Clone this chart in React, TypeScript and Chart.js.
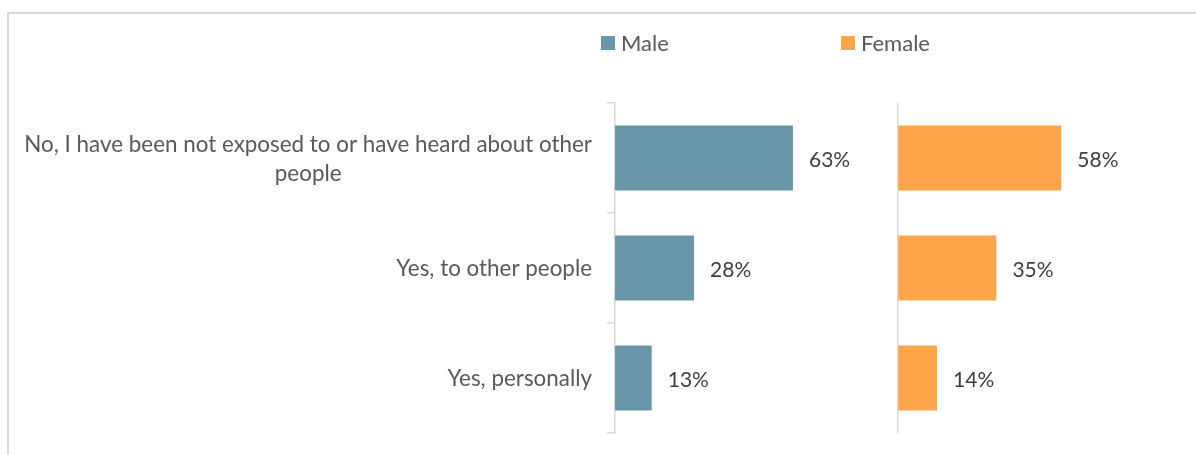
import React, { useEffect, useRef } from "react";
import { Chart, registerables } from "chart.js";

Chart.register(...registerables);

// ---- data ----
const categories: (string | string[])[] = [
  ["No, I have been not exposed to or have heard about other", "people"],
  "Yes, to other people",
  "Yes, personally",
];
const seriesNames = ["Male", "Female"];
const maleValues = [63, 28, 13];
const femaleValues = [58, 35, 14];
const valueSuffix = "%";
const axisMin = 0;
const axisMax = 100;

// ---- style ----
const FONT = "Lato, 'Noto Sans', sans-serif";
const MALE_COLOR = "#6A96AA";
const FEMALE_COLOR = "#FFA54C";
const AXIS_COLOR = "#D9D9D9";
const TEXT_COLOR = "#595959";
const LABEL_COLOR = "#404040";
const CAT_FONT_SIZE = 22.4;
const CAT_LINE_HEIGHT = 29;
const CAT_LABEL_GAP = 23;

const framePlugin = {
  id: "frame",
  beforeDraw(chart: any) {
    const ctx = chart.ctx;
    ctx.save();
    ctx.fillStyle = "#FFFFFF";
    ctx.fillRect(0, 0, chart.width, chart.height);
    ctx.fillStyle = AXIS_COLOR;
    ctx.fillRect(7, 12, 2, chart.height - 12);
    ctx.fillRect(7, 12, chart.width - 7, 2);
    ctx.restore();
  },
};

// Category labels: right-aligned block, lines centred inside the block (like Excel)
const categoryLabelPlugin = {
  id: "categoryLabels",
  afterDraw(chart: any) {
    const ctx = chart.ctx;
    const yScale = chart.scales.y;
    const right = chart.chartArea.left - CAT_LABEL_GAP;
    ctx.save();
    ctx.font = `${CAT_FONT_SIZE}px ${FONT}`;
    ctx.fillStyle = TEXT_COLOR;
    ctx.textBaseline = "middle";
    ctx.textAlign = "center";
    chart.data.labels.forEach((lab: any, i: number) => {
      const lines: string[] = Array.isArray(lab) ? lab : [lab];
      const maxW = Math.max(...lines.map((l) => ctx.measureText(l).width));
      const cx = right - maxW / 2;
      const cy = yScale.getPixelForTick(i);
      const startY = cy - ((lines.length - 1) * CAT_LINE_HEIGHT) / 2;
      lines.forEach((l, k) => ctx.fillText(l, cx, startY + k * CAT_LINE_HEIGHT + 1));
    });
    ctx.restore();
  },
};

const legendPlugin = {
  id: "customLegend",
  afterDraw(chart: any) {
    const ctx = chart.ctx;
    const xs = [601, 841];
    const cy = 43;
    ctx.save();
    ctx.font = `22px ${FONT}`;
    ctx.textBaseline = "middle";
    ctx.textAlign = "left";
    chart.data.datasets.forEach((ds: any, i: number) => {
      ctx.fillStyle = ds.backgroundColor;
      ctx.fillRect(xs[i], cy - 7, 14, 14);
      ctx.fillStyle = TEXT_COLOR;
      ctx.fillText(ds.label, xs[i] + 20, cy + 1);
    });
    ctx.restore();
  },
};

const valueLabelPlugin = {
  id: "valueLabels",
  afterDatasetsDraw(chart: any) {
    const ctx = chart.ctx;
    ctx.save();
    ctx.font = `21px ${FONT}`;
    ctx.fillStyle = LABEL_COLOR;
    ctx.textBaseline = "middle";
    ctx.textAlign = "left";
    chart.data.datasets.forEach((ds: any, i: number) => {
      const meta = chart.getDatasetMeta(i);
      meta.data.forEach((bar: any, j: number) => {
        ctx.fillText(`${ds.data[j]}${valueSuffix}`, bar.x + 16, bar.y + 2);
      });
    });
    ctx.restore();
  },
};

export default function App() {
  const canvasRef = useRef<HTMLCanvasElement | null>(null);

  useEffect(() => {
    const canvas = canvasRef.current;
    if (!canvas) return;
    const chart = new Chart(canvas, {
      type: "bar",
      data: {
        labels: categories,
        datasets: [
          {
            label: seriesNames[0],
            data: maleValues,
            backgroundColor: MALE_COLOR,
            xAxisID: "x",
            grouped: false,
            categoryPercentage: 1,
            barPercentage: 0.59,
          } as any,
          {
            label: seriesNames[1],
            data: femaleValues,
            backgroundColor: FEMALE_COLOR,
            xAxisID: "x2",
            grouped: false,
            categoryPercentage: 1,
            barPercentage: 0.59,
          } as any,
        ],
      },
      options: {
        indexAxis: "y",
        animation: false,
        responsive: false,
        maintainAspectRatio: false,
        layout: { padding: { top: 103, bottom: 22, left: 0, right: 16 } },
        plugins: {
          legend: { display: false },
          tooltip: { enabled: false },
        },
        scales: {
          y: {
            type: "category",
            position: "left",
            afterFit(scale: any) {
              scale.width = 615;
              scale.paddingTop = 0;
              scale.paddingBottom = 0;
            },
            grid: {
              offset: true,
              drawOnChartArea: false,
              drawTicks: true,
              tickLength: 8,
              color: AXIS_COLOR,
              lineWidth: 1.5,
            },
            border: { display: true, color: AXIS_COLOR, width: 1.5 },
            ticks: { display: false },
          },
          x: {
            type: "linear",
            position: "bottom",
            stack: "panels",
            stackWeight: 1,
            min: axisMin,
            max: axisMax,
            grid: { display: false, drawTicks: false },
            border: { display: false },
            ticks: { display: false },
          },
          x2: {
            type: "linear",
            position: "bottom",
            stack: "panels",
            stackWeight: 1,
            min: axisMin,
            max: axisMax,
            grid: {
              drawTicks: false,
              lineWidth: 1.5,
              color: (c: any) => (c.tick && c.tick.value === axisMin ? AXIS_COLOR : "rgba(0,0,0,0)"),
            },
            border: { display: false },
            ticks: { display: false },
          },
        } as any,
      },
      plugins: [framePlugin, categoryLabelPlugin, legendPlugin, valueLabelPlugin],
    });
    return () => chart.destroy();
  }, []);

  return (
    <div style={{ position: "absolute", left: 0, top: 0, width: 1196, height: 455, overflow: "hidden" }}>
      <canvas ref={canvasRef} width={1196} height={455} style={{ display: "block" }} />
    </div>
  );
}
